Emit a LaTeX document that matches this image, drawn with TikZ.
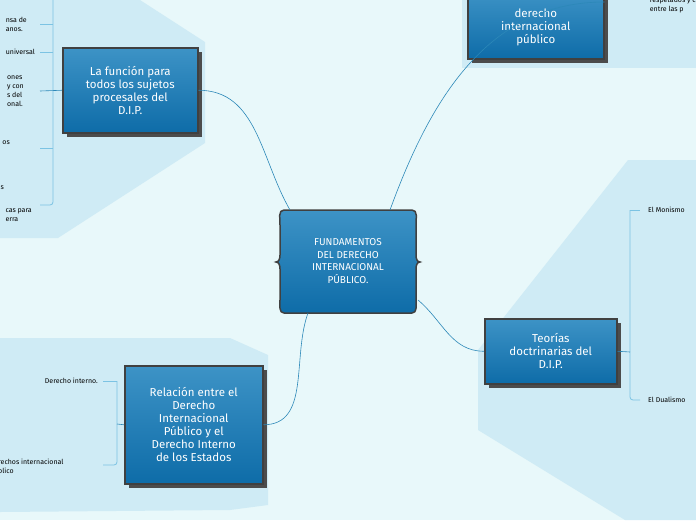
\documentclass[tikz,border=0pt]{standalone}
\usepackage{fontspec}
\setmainfont{Fira Sans}
\usetikzlibrary{positioning}
\usetikzlibrary{calc}
\definecolor{bgcol}{HTML}{E8F8FA}
\definecolor{panelcol}{HTML}{CFEBF5}
\definecolor{boxtop}{HTML}{3D93C6}
\definecolor{boxbot}{HTML}{0E6CA8}
\definecolor{linecol}{HTML}{2C88B8}
\definecolor{bracecol}{HTML}{7CC3E3}
\begin{document}
\begin{tikzpicture}[
		x=1pt, y=-1pt,
		topic/.style={
			shape=rectangle, draw=black!75, line width=1.5pt,
			align=center, text=white, font=\fontsize{11.5}{13}\selectfont,
			top color=boxtop, bottom color=boxbot,
			inner sep=0pt, anchor=north west
		},
		shade/.style={fill=black!70},
		leaf/.style={font=\fontsize{7}{9}\selectfont, align=left, inner sep=0pt},
		link/.style={draw=linecol, line width=0.6pt},
		brace/.style={draw=bracecol, line width=0.8pt, rounded corners=3pt}
		]
		\clip (0,0) rectangle (696,520);
		\fill[bgcol] (0,0) rectangle (696,520);
		% panels
		\fill[panelcol] (0,0) -- (140,0) -- (205,42) -- (205,143) -- (58,238) -- (0,238) -- cycle;
		\fill[panelcol] (462,0) rectangle (696,68);
		\fill[panelcol] (628,160) -- (696,160) -- (696,520) -- (625,520) -- (478,430) -- (478,350) -- cycle;
		\fill[panelcol] (0,338) -- (230,338) -- (268,355) -- (268,505) -- (230,510) -- (0,512) -- cycle;
		% topics
		\fill[shade] (67,52) rectangle (202,137);
		\node[topic, minimum width=135pt, minimum height=85pt] (funcion) at (62,47)
			{La función para\\todos los sujetos\\procesales del\\D.I.P.};
		\fill[shade] (472,-5) rectangle (608,63);
		\node[topic, minimum width=136pt, minimum height=68pt] (derecho) at (467,-10)
			{\\derecho\\internacional\\público};
		\fill[shade] (489,323) rectangle (621,388);
		\node[topic, minimum width=132pt, minimum height=65pt] (teorias) at (484,318)
			{Teorías\\doctrinarias del\\D.I.P.};
		\fill[shade] (129,370) rectangle (267,488);
		\node[topic, minimum width=138pt, minimum height=118pt] (relacion) at (124,365)
			{Relación entre el\\Derecho\\Internacional\\Público y el\\Derecho Interno\\de los Estados};
		% central topic
		\shade[top color=boxtop, bottom color=boxbot, draw=black!75, line width=1.5pt]
			(284,210) -- (412,210) to[out=0,in=90] (416,225) -- (416,255) to[out=-90,in=180] (420,262)
			to[out=180,in=90] (416,269) -- (416,300) to[out=-90,in=0] (412,313) -- (284,313)
			to[out=180,in=-90] (280,300) -- (280,269) to[out=90,in=0] (276,262)
			to[out=0,in=-90] (280,255) -- (280,225) to[out=90,in=180] (284,210) -- cycle;
		\node[align=center, text=white, font=\fontsize{10}{12.5}\selectfont] (centro) at (348,261)
			{FUNDAMENTOS\\DEL DERECHO\\INTERNACIONAL\\PÚBLICO.};
		\coordinate (cTL) at (290,210);
		\coordinate (cT) at (390,210);
		\coordinate (cR) at (418,300);
		\coordinate (cB) at (308,313);
		% connectors
		\draw[link] (funcion.east) to[out=0,in=120] (cTL);
		\draw[link] (cT) to[out=70,in=180] (derecho.east |- 0,2) ;
		\draw[link] (cR) to[out=-40,in=180] (teorias.west);
		\draw[link] (cB) to[out=-110,in=0] (relacion.east);
		% braces
		\draw[brace] (53,0) -- (53,205) -- (40,205);
		\foreach \y in {24,52,148} \draw[brace] (53,\y) -- (40,\y);
		\draw[link] (funcion.west) -- (40,91);
		\draw[brace] (630,210) -- (630,400) -- (640,400);
		\draw[brace] (630,210) -- (640,210);
		\draw[link] (teorias.east) -- (630,352);
		\draw[brace] (117,381) -- (117,465) -- (103,465);
		\draw[brace] (117,381) -- (103,381);
		\draw[link] (relacion.west) -- (117,424);
		% leaf texts
		\node[leaf, anchor=east] (t1) at (27,24) {nsa de\\anos.};
		\node[leaf, anchor=east] (t2) at (35,52) {universal};
		\node[leaf, anchor=east] (t3) at (24,91) {ones\\y con\\s del\\onal.};
		\node[leaf, anchor=east] (t4) at (10,143) {os};
		\node[leaf, anchor=east] (t5) at (4,188) {s};
		\node[leaf, anchor=east] (t6) at (32,215) {cas para\\erra};
		\node[leaf, anchor=north east] (t7) at (696,-3) {respetados y c\\entre las p};
		\node[leaf, anchor=west] (t8) at (648,210) {El Monismo};
		\node[leaf, anchor=west] (t9) at (648,400) {El Dualismo};
		\node[leaf, anchor=east] (t10) at (98,381) {Derecho interno.};
		\node[leaf, anchor=west] (t11) at (-2,466) {rechos internacional\\blico};
	\end{tikzpicture}
\end{document}
